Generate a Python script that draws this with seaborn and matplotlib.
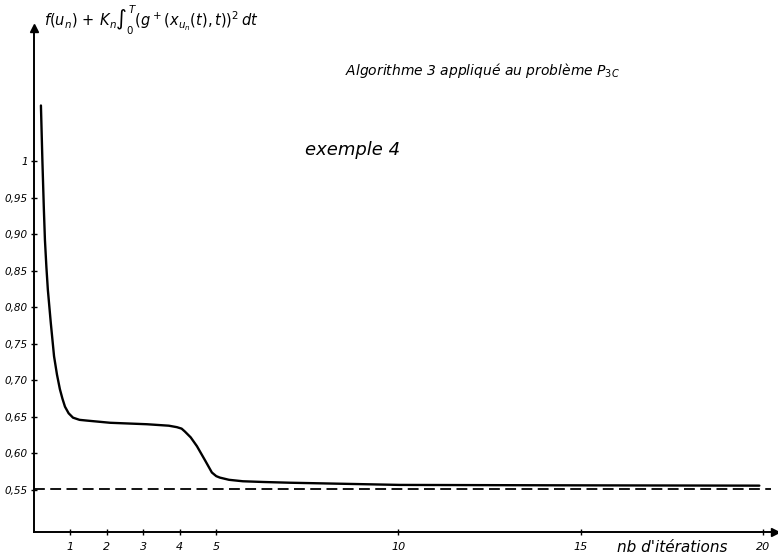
import matplotlib
matplotlib.use("Agg")
import matplotlib.pyplot as plt
import seaborn as sns
import pandas as pd

# --- data ---
iterations = [0.19, 0.23, 0.27, 0.30, 0.34, 0.38, 0.46, 0.55, 0.63, 0.71, 0.78, 0.85,
              0.95, 1.07, 1.25, 1.45, 2.09, 3.10, 3.70, 3.92, 4.05, 4.14, 4.30, 4.47,
              4.70, 4.88, 5.00, 5.10, 5.35, 5.73, 6.30, 7.02, 10.04, 14.0, 19.9]
criterion = [1.076, 1.001, 0.935, 0.892, 0.855, 0.824, 0.779, 0.733, 0.708, 0.688, 0.675,
             0.664, 0.655, 0.649, 0.646, 0.645, 0.642, 0.640, 0.638, 0.636, 0.634, 0.630,
             0.622, 0.610, 0.590, 0.574, 0.569, 0.567, 0.564, 0.562, 0.561, 0.560, 0.557,
             0.5565, 0.556]
limit_value = 0.551
x_ticks = [1, 2, 3, 4, 5, 10, 15, 20]
x_tick_labels = ["1", "2", "3", "4", "5", "10", "15", "20"]
y_ticks = [1.0, 0.95, 0.90, 0.85, 0.80, 0.75, 0.70, 0.65, 0.60, 0.55]
y_tick_labels = ["1", "0,95", "0,90", "0,85", "0,80", "0,75", "0,70", "0,65", "0,60", "0,55"]

df = pd.DataFrame({"it": iterations, "val": criterion})

sns.set_style("white")
plt.rcParams["font.family"] = ["DejaVu Sans"]
plt.rcParams["text.color"] = "black"
plt.rcParams["xtick.color"] = "black"
plt.rcParams["ytick.color"] = "black"

fig = plt.figure(figsize=(7.78, 5.56), dpi=100)
ax = fig.add_axes([34 / 778, 1 - 532 / 556, (775 - 34) / 778, (532 - 28) / 556])

sns.lineplot(data=df, x="it", y="val", ax=ax, color="black", linewidth=1.7,
             estimator=None, sort=False)
ax.axhline(limit_value, color="black", linewidth=1.3, linestyle=(0, (6, 3)),
           xmax=0.995)

ax.set_xlim(0, 20.33)
ax.set_ylim(0.4926, 1.182)

for side in ["top", "right"]:
    ax.spines[side].set_visible(False)
for side in ["left", "bottom"]:
    ax.spines[side].set_color("black")
    ax.spines[side].set_linewidth(1.4)

ax.plot(1, 0, marker=">", color="black", markersize=6, transform=ax.transAxes, clip_on=False)
ax.plot(0, 1, marker="^", color="black", markersize=6, transform=ax.transAxes, clip_on=False)

ax.set_xticks(x_ticks)
ax.set_xticklabels(x_tick_labels, fontsize=8, style="italic")
ax.set_yticks(y_ticks)
ax.set_yticklabels(y_tick_labels, fontsize=7.5, style="italic")
ax.tick_params(axis="both", direction="inout", length=5, width=1, color="black",
               labelcolor="black", bottom=True, left=True, pad=2)
ax.tick_params(axis="x", pad=5)
ax.set_xlabel("")
ax.set_ylabel("")

fig.text(345 / 778, 1 - 70 / 556, r"Algorithme 3 appliqué au problème $P_{3C}$",
         fontsize=10, style="italic", va="center", ha="left", color="black")
fig.text(305 / 778, 1 - 150 / 556, "exemple 4", fontsize=13, style="italic",
         va="center", ha="left", color="black")
fig.text(44 / 778, 1 - 20 / 556,
         r"$f(u_n)\,+\,K_n\int_0^T(g^+(x_{u_n}(t),t))^2\,dt$",
         fontsize=10.5, va="center", ha="left", color="black")
fig.text(617 / 778, 1 - 547 / 556, "nb d'itérations", fontsize=11, style="italic",
         va="center", ha="left", color="black")

fig.savefig("out.png", dpi=100)
